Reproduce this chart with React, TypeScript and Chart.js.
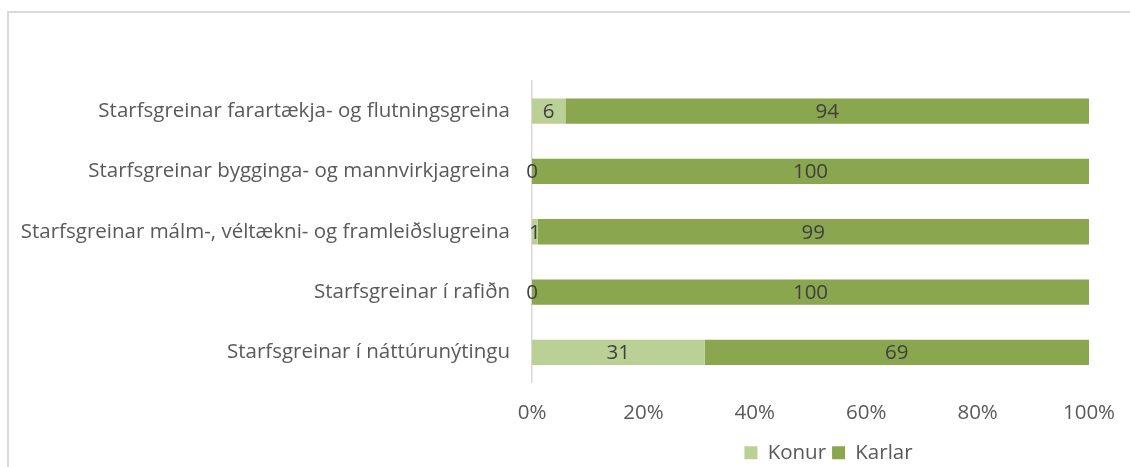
import React, { useEffect, useRef } from "react";
import { Chart, registerables } from "chart.js";
Chart.register(...registerables);

const categories = [
  "Starfsgreinar farartækja- og flutningsgreina",
  "Starfsgreinar bygginga- og mannvirkjagreina",
  "Starfsgreinar málm-, véltækni- og framleiðslugreina",
  "Starfsgreinar í rafiðn",
  "Starfsgreinar í náttúrunýtingu",
];
const konur = [6, 0, 1, 0, 31];
const karlar = [94, 100, 99, 100, 69];
const seriesNames = ["Konur", "Karlar"];
const xTickValues = [0, 20, 40, 60, 80, 100];

const FONT = "'Open Sans', 'Noto Sans', sans-serif";
const SIZE = 20.5;

const valueLabels = {
  id: "valueLabels",
  afterDatasetsDraw(chart: any) {
    const ctx = chart.ctx;
    ctx.save();
    ctx.font = `${SIZE}px ${FONT}`;
    ctx.fillStyle = "#404040";
    ctx.textAlign = "center";
    ctx.textBaseline = "middle";
    chart.data.datasets.forEach((ds: any, i: number) => {
      const meta = chart.getDatasetMeta(i);
      meta.data.forEach((bar: any, j: number) => {
        const p = bar.getProps(["x", "y", "base"], true);
        ctx.fillText(String(ds.data[j]), (p.x + p.base) / 2, p.y + 1);
      });
    });
    ctx.restore();
  },
};

const legendShift = {
  id: "legendShift",
  afterLayout(chart: any) {
    const lg = chart.legend;
    if (!lg) return;
    lg.left += 18;
    lg.right += 18;
    lg.top += 6;
    lg.bottom += 6;
  },
};

export default function App() {
  const ref = useRef<HTMLCanvasElement>(null);
  useEffect(() => {
    const chart = new Chart(ref.current!, {
      type: "bar",
      data: {
        labels: categories,
        datasets: [
          { label: seriesNames[0], data: konur, backgroundColor: "#bad094" },
          { label: seriesNames[1], data: karlar, backgroundColor: "#8aa64f" },
        ],
      },
      options: {
        indexAxis: "y",
        animation: false,
        responsive: false,
        maintainAspectRatio: false,
        layout: { padding: { top: 81, right: 41, bottom: 0, left: 0 } },
        datasets: { bar: { categoryPercentage: 1, barPercentage: 0.42 } },
        scales: {
          x: {
            stacked: true,
            min: 0,
            max: 100,
            afterBuildTicks: (s: any) => {
              s.ticks = xTickValues.map((v) => ({ value: v }));
            },
            afterFit: (s: any) => {
              s.height = 48;
              s.paddingLeft = 0;
              s.paddingRight = 0;
            },
            grid: { display: false, drawTicks: false },
            border: { display: false },
            ticks: {
              padding: 18,
              color: "#595959",
              font: { family: FONT, size: SIZE },
              callback: (v: any) => v + "%",
            },
          },
          y: {
            stacked: true,
            afterFit: (s: any) => {
              s.width = 532;
            },
            grid: { display: false, drawTicks: false },
            border: { display: true, color: "#d9d9d9", width: 1.5 },
            ticks: {
              padding: 22,
              color: "#595959",
              font: { family: FONT, size: SIZE },
            },
          },
        },
        plugins: {
          legend: {
            position: "bottom",
            fullSize: false,
            labels: {
              color: "#595959",
              font: { family: FONT, size: SIZE },
              boxWidth: 13,
              boxHeight: 13,
              padding: 6,
            },
          },
          tooltip: { enabled: false },
        },
      },
      plugins: [valueLabels, legendShift],
    });
    return () => chart.destroy();
  }, []);
  return (
    <div style={{ position: "fixed", left: 0, top: 0, width: 1130, height: 467, background: "#fff" }}>
      <div
        style={{
          position: "absolute",
          left: 7,
          top: 11,
          width: 1200,
          height: 500,
          borderTop: "2px solid #d9d9d9",
          borderLeft: "2px solid #d9d9d9",
        }}
      />
      <canvas ref={ref} width={1130} height={467} style={{ position: "absolute", left: 0, top: 0 }} />
    </div>
  );
}
